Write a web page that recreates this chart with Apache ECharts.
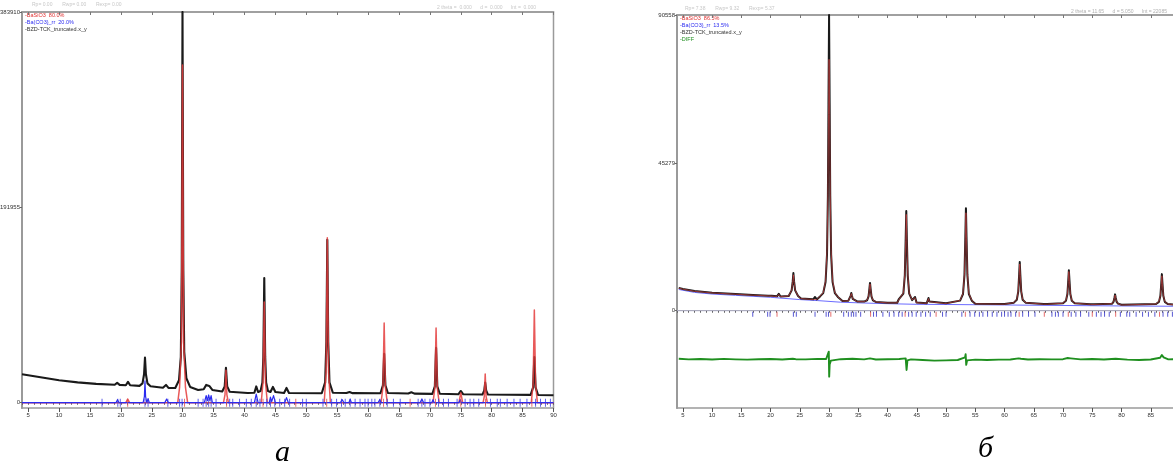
<!DOCTYPE html>
<html>
<head>
<meta charset="utf-8">
<script src="https://cdn.jsdelivr.net/npm/echarts@6/dist/echarts.min.js"></script>
<style>
  html, body { margin: 0; padding: 0; background: #fff; }
  #chart { width: 1173px; height: 472px; }
</style>
</head>
<body>
<div id="chart"></div>
<script>
// ---- Pattern (а): 2θ, counts ----
const obsA = [
  [4, 28000], [5, 27000], [8, 24000], [10, 22000], [13, 20000], [16, 18500],
  [19.0, 17600], [19.4, 19500], [19.8, 17500],
  [20.8, 17200], [21.15, 20500], [21.5, 17100],
  [23.0, 16500], [23.5, 19000], [23.75, 28000], [23.9, 44300], [24.05, 28000], [24.3, 19000], [24.8, 16200],
  [26.8, 14700], [27.3, 17500], [27.7, 14500],
  [28.8, 14500], [29.4, 22000], [29.7, 45000], [29.85, 130000], [29.97, 383910], [30.1, 130000], [30.25, 50000], [30.6, 24000], [31.2, 15500],
  [32.5, 12500], [33.4, 13200], [33.8, 17500], [34.0, 18700], [34.3, 16500], [34.8, 12500],
  [36.4, 11000], [36.8, 16000], [37.0, 34400], [37.2, 16000], [37.6, 10800],
  [40.5, 9500], [41.6, 9800], [41.9, 16000], [42.2, 10500],
  [42.6, 11500], [42.9, 20000], [43.05, 45000], [43.2, 122500], [43.35, 45000], [43.5, 20000], [43.8, 11500],
  [44.2, 10500], [44.6, 15500], [45.0, 10500],
  [46.4, 9600], [46.8, 14500], [47.2, 9600],
  [52.5, 9300], [53.05, 20000], [53.25, 60000], [53.4, 160000], [53.55, 60000], [53.75, 20000], [54.3, 9800],
  [56.5, 9500], [57.0, 10500], [57.5, 9400],
  [62.0, 9300], [62.4, 17000], [62.6, 48000], [62.8, 17000], [63.2, 9500],
  [66.5, 9000], [67.0, 10300], [67.5, 8900],
  [70.4, 8700], [70.8, 16000], [71.0, 54000], [71.2, 16000], [71.6, 8800],
  [74.6, 8300], [75.0, 11500], [75.4, 8300],
  [78.5, 8000], [78.8, 12000], [78.95, 19700], [79.1, 12000], [79.4, 8000],
  [86.3, 7700], [86.7, 15000], [86.9, 44900], [87.1, 15000], [87.5, 7600],
  [90, 7300]
];
const calcA = [
  [4, 0], [20.8, 0], [21.1, 3500], [21.4, 0],
  [29.2, 0], [29.5, 15000], [29.8, 60000], [29.97, 331800], [30.15, 60000], [30.45, 15000], [30.8, 0],
  [36.6, 0], [36.85, 8000], [37.0, 32000], [37.15, 8000], [37.4, 0],
  [42.7, 0], [43.0, 20000], [43.2, 98900], [43.4, 20000], [43.7, 0],
  [52.9, 0], [53.2, 30000], [53.4, 162000], [53.6, 30000], [53.9, 0],
  [62.1, 0], [62.4, 15000], [62.6, 78300], [62.8, 15000], [63.1, 0],
  [70.5, 0], [70.8, 14000], [71.0, 73400], [71.2, 14000], [71.5, 0],
  [74.7, 0], [75.0, 9800], [75.3, 0],
  [78.6, 0], [78.8, 6000], [78.95, 28200], [79.1, 6000], [79.3, 0],
  [86.4, 0], [86.7, 18000], [86.9, 91100], [87.1, 18000], [87.4, 0],
  [90, 0]
];
const carbA = [
  [4, 0], [19.2, 0], [19.45, 3000], [19.7, 0],
  [23.6, 0], [23.8, 6000], [23.9, 21600], [24.0, 6000], [24.2, 0], [24.4, 4000], [24.6, 0],
  [27.1, 0], [27.4, 3500], [27.7, 0],
  [33.5, 0], [33.8, 7000], [34.0, 2000], [34.2, 7600], [34.4, 2000], [34.6, 7000], [34.8, 0],
  [41.6, 0], [41.9, 8500], [42.2, 0],
  [44.0, 0], [44.2, 5500], [44.4, 1000], [44.7, 7000], [45.0, 0],
  [46.5, 0], [46.8, 5000], [47.1, 0],
  [55.5, 0], [55.8, 3000], [56.1, 0],
  [56.9, 0], [57.1, 3500], [57.3, 0],
  [61.6, 0], [61.9, 3000], [62.1, 0],
  [68.4, 0], [68.7, 3500], [69.0, 0],
  [70.3, 0], [70.5, 3000], [70.7, 0],
  [74.7, 0], [74.9, 3000], [75.1, 0],
  [90, 0]
];

// ---- Pattern (б): 2θ, counts ----
const obsB = [
  [4.3, 7000], [5, 6640], [7, 6000], [10, 5500], [14, 5100], [17, 4800],
  [19.6, 4600], [19.9, 5150], [20.2, 4550],
  [21.1, 4400], [21.4, 5150], [21.7, 4350],
  [23.1, 4480], [23.6, 6230], [23.78, 8890], [23.9, 11550], [24.02, 8890], [24.2, 6230], [24.7, 4480], [25.2, 3730],
  [27.3, 3500], [27.6, 4200], [27.9, 3450],
  [28.5, 4450], [29.0, 5400], [29.4, 8800], [29.65, 17300], [29.8, 35300], [29.9, 63300], [30.0, 90558],
  [30.1, 63250], [30.2, 35250], [30.35, 17250], [30.6, 8750], [31.0, 5350], [31.5, 4200], [32.3, 3000],
  [33.3, 3080], [33.55, 3600], [33.7, 4640], [33.8, 5420], [33.9, 4640], [34.05, 3600], [34.3, 3080], [34.8, 2850],
  [36.0, 2780], [36.5, 3190], [36.75, 4370], [36.9, 6730], [37.0, 8500], [37.1, 6730], [37.25, 4370], [37.5, 3190], [38.0, 2700],
  [40.0, 2450], [41.65, 2430], [41.9, 3430], [42.05, 2900],
  [42.2, 3240], [42.7, 5210], [42.95, 10830], [43.1, 22070], [43.2, 30500], [43.3, 22070], [43.45, 10830], [43.7, 5210], [44.2, 3240],
  [44.45, 2700], [44.7, 4200], [44.95, 2500],
  [46.7, 2300], [46.85, 2800], [47.0, 3900], [47.15, 2800], [47.3, 2280],
  [50.0, 2260], [52.4, 3080], [52.9, 5120], [53.15, 10960], [53.3, 22640], [53.4, 31400], [53.5, 22640], [53.65, 10960], [53.9, 5120], [54.4, 3080], [55.0, 2150],
  [60.0, 2050], [61.6, 2460], [62.1, 3360], [62.35, 5920], [62.5, 11040], [62.6, 14880], [62.7, 11040], [62.85, 5920], [63.1, 3360], [63.6, 2460],
  [66.7, 2050], [67.0, 2500], [67.3, 2050],
  [70.0, 2310], [70.5, 3040], [70.75, 5120], [70.9, 9280], [71.0, 12400], [71.1, 9280], [71.25, 5120], [71.5, 3040], [72.0, 2310],
  [74.7, 1980], [75.0, 2450], [75.3, 1960],
  [78.4, 2165], [78.65, 2795], [78.8, 4055], [78.9, 5000], [79.0, 4055], [79.15, 2795], [79.4, 2165], [80.0, 1800],
  [85.9, 2030], [86.4, 2700], [86.65, 4585], [86.8, 8365], [86.9, 11200], [87.0, 8365], [87.15, 4585], [87.4, 2700], [87.9, 2030],
  [90, 1700]
];
const calcB = [
  [4.3, 6900], [5, 6600], [7, 5950], [10, 5450], [14, 5050], [17, 4750],
  [19.6, 4550], [19.9, 5000], [20.2, 4500],
  [21.1, 4350], [21.4, 5000], [21.7, 4300],
  [23.1, 4500], [23.6, 6300], [23.78, 8700], [23.9, 11000], [24.02, 8700], [24.2, 6300], [24.7, 4500], [25.2, 3700],
  [27.3, 3450], [27.6, 4050], [27.9, 3400],
  [28.5, 4500], [29.0, 5500], [29.4, 9200], [29.65, 18500], [29.8, 36000], [29.9, 60000], [30.0, 77000],
  [30.1, 60000], [30.2, 36000], [30.35, 18500], [30.6, 9200], [31.0, 5500], [31.5, 4250], [32.3, 2950],
  [33.3, 3050], [33.55, 3650], [33.7, 4600], [33.8, 5250], [33.9, 4600], [34.05, 3650], [34.3, 3050], [34.8, 2800],
  [36.0, 2750], [36.5, 3250], [36.75, 4450], [36.9, 6600], [37.0, 8200], [37.1, 6600], [37.25, 4450], [37.5, 3250], [38.0, 2650],
  [40.0, 2400], [41.65, 2400], [41.9, 3300], [42.05, 2900],
  [42.2, 3300], [42.7, 5400], [42.95, 11200], [43.1, 21500], [43.2, 29500], [43.3, 21500], [43.45, 11200], [43.7, 5400], [44.2, 3300],
  [44.45, 2700], [44.7, 4000], [44.95, 2450],
  [46.7, 2250], [46.85, 2750], [47.0, 3700], [47.15, 2750], [47.3, 2230],
  [50.0, 2200], [52.4, 3150], [52.9, 5300], [53.15, 11300], [53.3, 22000], [53.4, 30000], [53.5, 22000], [53.65, 11300], [53.9, 5300], [54.4, 3150], [55.0, 2100],
  [60.0, 2000], [61.6, 2450], [62.1, 3450], [62.35, 6100], [62.5, 10800], [62.6, 14300], [62.7, 10800], [62.85, 6100], [63.1, 3450], [63.6, 2450],
  [66.7, 2000], [67.0, 2400], [67.3, 2000],
  [70.0, 2300], [70.5, 3100], [70.75, 5250], [70.9, 9000], [71.0, 12000], [71.1, 9000], [71.25, 5250], [71.5, 3100], [72.0, 2300],
  [74.7, 1930], [75.0, 2350], [75.3, 1910],
  [78.4, 2150], [78.65, 2850], [78.8, 3950], [78.9, 4800], [79.0, 3950], [79.15, 2850], [79.4, 2150], [80.0, 1750],
  [85.9, 2050], [86.4, 2800], [86.65, 4700], [86.8, 8100], [86.9, 10700], [87.0, 8100], [87.15, 4700], [87.4, 2800], [87.9, 2050],
  [90, 1650]
];
const backB = [
  [4.3, 6500], [7, 5600], [10, 5100], [14, 4700], [20, 4100], [25, 3400], [28, 3100],
  [32, 2600], [36, 2350], [40, 2150], [45, 1950], [50, 1900], [60, 1750], [70, 1600], [80, 1450], [90, 1350]
];
const diffB = [
  [4.3, -14700], [6, -14900], [8, -14800], [10, -14950], [12, -14750], [14, -14900], [16, -15000], [18, -14850],
  [20, -14800], [22, -14950], [23.8, -14700], [24.0, -15300], [24.3, -14850], [26, -14900], [28, -14750],
  [29.5, -14800], [29.8, -14200], [29.95, -12550], [30.02, -20200], [30.1, -16500], [30.3, -15300], [30.6, -14900],
  [32, -14850], [34, -14700], [36, -14900], [37, -14600], [38, -14950], [40, -14850], [42, -14800],
  [43.1, -14600], [43.25, -18150], [43.4, -15200], [44, -14900], [46, -15100], [48, -15300], [50, -15200],
  [52, -15100], [53.25, -14300], [53.35, -13340], [53.45, -16600], [53.6, -15200], [55, -15000], [57, -15100],
  [59, -15000], [61, -14950], [62.4, -14600], [62.6, -14080], [62.8, -14700], [64, -14950], [66, -14850],
  [68, -14900], [70, -14850], [70.8, -14500], [71.0, -14080], [71.3, -14600], [73, -14900], [75, -14800],
  [77, -14950], [79, -14700], [81, -15000], [83, -15100], [85, -14950], [86.6, -14400], [86.9, -13560],
  [87.2, -14300], [88, -14900], [90, -14850]
];

// Reflection positions (2θ)
const reflCarb = [16.95, 19.5, 19.9, 23.9, 24.4, 27.6, 29.5, 29.9, 32.5, 33.3, 33.8, 34.2, 34.6, 35.4, 37.6, 38.1,
  39.2, 40.3, 41.1, 41.9, 42.5, 43.6, 44.2, 44.9, 45.7, 46.5, 47.3, 49.4, 50.0, 52.7, 54.1, 54.9, 55.7, 56.3,
  57.1, 57.9, 58.7, 59.5, 60.0, 60.6, 61.1, 61.9, 63.1, 64.1, 65.2, 68.1, 68.7, 69.2, 70.0, 71.4, 72.2, 73.0,
  74.4, 75.7, 76.5, 77.1, 77.9, 79.8, 80.9, 81.4, 82.5, 83.6, 84.6, 85.7, 87.1, 87.9, 88.7, 89.5];
const reflSil = [21.1, 30.3, 37.1, 43.0, 48.3, 53.3, 62.5, 66.8, 70.9, 75.0, 79.0, 86.5];

// Axis marks
const ticksX = [5, 10, 15, 20, 25, 30, 35, 40, 45, 50, 55, 60, 65, 70, 75, 80, 85, 90];
const ticksYA = [0, 191955, 383910];
const ticksYB = [0, 45279, 90558];

const FONT = 'Liberation Sans';
const GRAY = '#9a9a9a';

function bottomAxes(gridIndex) {
  return [
    {
      type: 'value', gridIndex, position: 'bottom', min: 4, max: 90, interval: 1,
      axisLine: { show: true, lineStyle: { color: GRAY, width: 1 } },
      axisTick: { show: true, length: 2, lineStyle: { color: '#555', width: 1 } },
      axisLabel: { customValues: ticksX, fontSize: 6, color: '#333', fontFamily: FONT, margin: 4 },
      splitLine: { show: false }
    },
    {
      type: 'value', gridIndex, position: 'bottom', min: 4, max: 90,
      axisLine: { show: false },
      axisTick: { show: true, customValues: ticksX, length: 4, lineStyle: { color: '#555', width: 1 } },
      axisLabel: { show: false },
      splitLine: { show: false }
    },
    {
      type: 'value', gridIndex, position: 'top', min: 4, max: 90,
      axisLine: { show: true, lineStyle: { color: GRAY, width: 1.5 } },
      axisTick: { show: true, inside: true, customValues: ticksX, length: 3, lineStyle: { color: '#777', width: 1 } },
      axisLabel: { show: false },
      splitLine: { show: false }
    }
  ];
}

function leftAxis(gridIndex, min, max, labels) {
  return {
    type: 'value', gridIndex, min, max,
    axisLine: { show: true, lineStyle: { color: GRAY, width: 2 } },
    axisTick: { show: true, customValues: labels, length: 2, lineStyle: { color: '#666' } },
    axisLabel: {
      customValues: labels, fontSize: 6, color: '#333', fontFamily: FONT, margin: 2,
      formatter: v => String(v)
    },
    splitLine: { show: false }
  };
}

function line(data, xi, yi, color, width, z) {
  return {
    type: 'line', data, xAxisIndex: xi, yAxisIndex: yi, showSymbol: false, symbol: 'none',
    lineStyle: { color, width, join: 'round' }, z, silent: true, animation: false
  };
}

function reflections(list, xi, yi, color, offset, h, z) {
  return {
    type: 'scatter', data: list.map(v => [v, 0]), xAxisIndex: xi, yAxisIndex: yi,
    symbol: 'rect', symbolSize: [1, h], symbolOffset: [0, offset],
    itemStyle: { color }, z, silent: true, animation: false
  };
}

function txt(x, y, text, color, size, extra) {
  return { type: 'text', left: x, top: y, style: Object.assign({ text, fill: color, fontSize: size, fontFamily: FONT }, extra || {}) };
}

const chart = echarts.init(document.getElementById('chart'), null, { renderer: 'canvas' });

const option = {
  backgroundColor: '#fff',
  animation: false,
  grid: [
    { left: 22, top: 12, right: 619.5, bottom: 64, show: true, borderColor: GRAY, borderWidth: 1.5, outerBoundsMode: 'none', containLabel: false },
    { left: 677, top: 15, right: -7, bottom: 64, show: true, borderColor: GRAY, borderWidth: 1.5, outerBoundsMode: 'none', containLabel: false }
  ],
  xAxis: [...bottomAxes(0), ...bottomAxes(1)],
  yAxis: [
    leftAxis(0, -5200, 383910, ticksYA),
    leftAxis(1, -29800, 90558, ticksYB)
  ],
  series: [
    // (а)
    {
      type: 'line', data: [[4, 0], [90, 0]], xAxisIndex: 0, yAxisIndex: 0, showSymbol: false, symbol: 'none',
      lineStyle: { color: '#7a7aff', width: 1 }, z: 1, silent: true
    },
    line(obsA, 0, 0, '#1a1a1a', 2.1, 2),
    line(calcA, 0, 0, 'rgba(228,60,60,0.85)', 1.5, 3),
    line(carbA, 0, 0, '#2b2bf0', 1.2, 4),
    reflections(reflCarb, 0, 0, '#3a3ae0', 0, 8, 5),
    reflections(reflSil, 0, 0, '#e04848', 0, 8, 5),
    // (б)
    {
      type: 'line', data: [[4, 0], [90, 0]], xAxisIndex: 3, yAxisIndex: 1, showSymbol: false, symbol: 'none',
      lineStyle: { color: '#b0b0c8', width: 1 }, z: 1, silent: true
    },
    line(backB, 3, 1, '#6b6bff', 1, 2),
    line(obsB, 3, 1, '#1a1a1a', 2, 3),
    line(calcB, 3, 1, 'rgba(228,70,70,0.6)', 1, 4),
    line(diffB, 3, 1, '#1f8f1f', 1.9, 3),
    reflections(reflCarb, 3, 1, '#3030c8', 3.5, 5, 5),
    reflections(reflSil, 3, 1, '#e04848', 3.5, 5, 5)
  ],
  graphic: [
    // (а) header and key
    txt(32, 2, 'Rp= 0.00       Rwp= 0.00       Rexp= 0.00', '#c8c8c8', 5),
    txt(437, 5, '2 theta =  0.000      d =  0.000      Int =  0.000', '#c8c8c8', 5),
    txt(25, 12, '-BaSiO3  80.0%', '#e03030', 5.5),
    txt(25, 19, '-Ba(CO3)_rr  20.0%', '#2b2bf0', 5.5),
    txt(25, 26, '-BZD-TCK_truncated.x_y', '#333', 5.5),
    // (б) header and key
    txt(685, 6, 'Rp= 7.38       Rwp= 9.32       Rexp= 5.37', '#c8c8c8', 5),
    txt(1071, 9, '2 theta = 11.65      d = 5.050      Int = 22085', '#b0b0b0', 5),
    txt(680, 15, '-BaSiO3  86.5%', '#e03030', 5.5),
    txt(680, 22, '-Ba(CO3)_rr  13.5%', '#2b2bf0', 5.5),
    txt(680, 29, '-BZD-TCK_truncated.x_y', '#333', 5.5),
    txt(680, 36, '-DIFF', '#1f8f1f', 5.5),
    // panel captions
    txt(275, 438, 'а', '#000', 30, { fontFamily: 'Liberation Serif', fontStyle: 'italic' }),
    txt(978, 434, 'б', '#000', 30, { fontFamily: 'Liberation Serif', fontStyle: 'italic' })
  ]
};

chart.setOption(option);
</script>
</body>
</html>
